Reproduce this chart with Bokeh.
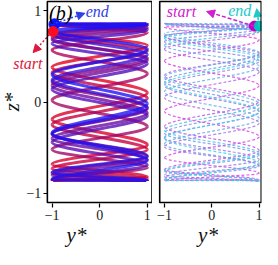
from bokeh.plotting import figure
from bokeh.layouts import row
from bokeh.models import ColumnDataSource, Arrow, NormalHead, Label, FixedTicker, Range1d, BoxAnnotation
from bokeh.embed import file_html
from bokeh.resources import INLINE

# ---- data: wall-to-wall turning points of each trajectory ----
left_y = [-1, 1, -1, 1, -1, 1, -1, 1, -1, 1,
          -1, 1, -1, 1, -1, 1, -1, 1, -1, 1,
          -1, 1, -1, 1, -1, 1, -1, 1, -1, 1,
          -1, 1, -1, 1, -1, 1, -1, 1, -1, 1,
          -1, 1, -1, 1, -1, 1, -1, 1, -1, 1,
          -1, 1, -1, 1, -1, 1, -1, 1, -1, 1,
          -1, 1, -1, 1, -1, 1, -1, 1, -1, 1,
          -1, 1, -1]
left_z = [0.77, 0.62, 0.38, 0.10, -0.19, -0.47, -0.68, -0.82, -0.86,
          -0.84, -0.73, -0.52, -0.25, 0.04, 0.32, 0.56, 0.74, 0.84,
          0.85, 0.76, 0.57, 0.31, 0.02, -0.27, -0.52, -0.72, -0.84,
          -0.86, -0.78, -0.60, -0.35, -0.07, 0.22, 0.48, 0.68, 0.81, 0.86,
          0.84, 0.70, 0.46, 0.18, -0.12, -0.40, -0.63, -0.80, -0.86,
          -0.85, -0.69, -0.44, -0.15, 0.14, 0.42, 0.64, 0.79, 0.85,
          0.86, 0.74, 0.52, 0.24, -0.06, -0.35, -0.59, -0.77, -0.86,
          -0.85, -0.64, -0.34, -0.02, 0.30, 0.58, 0.78, 0.85,
          0.85]

right_y = [0.9,
           -1, 1, -1, 1, -1, 1, -1, 1, -1, 1,
           -1, 1, -1, 1, -1, 1, -1, 1, -1, 1,
           -1, 1, -1, 1, -1, 1, -1, 1, -1, 1,
           -1, 1, -1, 1, -1, 1, -1, 1, -1, 1,
           -1, 1, -1, 1, -1, 1, -1, 1, -1, 1,
           -1, 1, -1, 1, -1, 1, -1, 1, -1, 1,
           -1, 1, -1, 1, -1, 1, -1, 1, -1, 1,
           -1, 1]
right_z = [0.83,
           0.82, 0.68, 0.45, 0.18, -0.10, -0.38, -0.61, -0.78, -0.86,
           -0.85, -0.74, -0.53, -0.27, 0.01, 0.29, 0.53, 0.72, 0.83,
           0.86, 0.77, 0.58, 0.33, 0.05, -0.23, -0.49, -0.69, -0.82,
           -0.87, -0.80, -0.63, -0.39, -0.11, 0.18, 0.45, 0.66, 0.80, 0.86,
           0.84, 0.72, 0.50, 0.23, -0.06, -0.34, -0.58, -0.76, -0.86,
           -0.85, -0.70, -0.46, -0.18, 0.11, 0.39, 0.62, 0.78, 0.85,
           0.86, 0.75, 0.54, 0.27, -0.02, -0.31, -0.56, -0.75, -0.86,
           -0.86, -0.67, -0.40, -0.10, 0.20, 0.48, 0.70, 0.83]

ticks = [-1, 0, 1]
tick_labels = {-1: "\u22121", 0: "0", 1: "1"}

SERIF = "Liberation Serif"


def lerp_color(c0, c1, t):
    return "#%02x%02x%02x" % tuple(int(round(a + (b - a) * t)) for a, b in zip(c0, c1))


def segments(ys, zs, c0, c1):
    n = len(ys) - 1
    d = dict(x0=[], y0=[], x1=[], y1=[], cx0=[], cy0=[], cx1=[], cy1=[], color=[])
    for i in range(n):
        a, b = zs[i], zs[i + 1]
        d["x0"].append(ys[i]); d["y0"].append(a)
        d["x1"].append(ys[i + 1]); d["y1"].append(b)
        d["cx0"].append(ys[i]); d["cy0"].append(a + (b - a) / 3)
        d["cx1"].append(ys[i + 1]); d["cy1"].append(b - (b - a) / 3)
        d["color"].append(lerp_color(c0, c1, i / (n - 1)))
    return ColumnDataSource(d)


def style_axis(ax, label):
    ax.ticker = FixedTicker(ticks=ticks)
    ax.major_label_overrides = tick_labels
    ax.minor_tick_line_color = None
    ax.major_tick_in = 0
    ax.major_tick_out = 4
    ax.major_tick_line_width = 1.2
    ax.major_tick_line_color = "black"
    ax.axis_line_color = None
    ax.major_label_text_font = SERIF
    ax.major_label_text_font_size = "14px"
    ax.major_label_text_color = "#222222"
    ax.major_label_standoff = 2
    ax.axis_label = label
    ax.axis_label_text_font = SERIF
    ax.axis_label_text_font_style = "italic"
    ax.axis_label_text_font_size = "21px"
    ax.axis_label_text_color = "#111111"
    ax.axis_label_standoff = 0


def style(p, right_edge):
    p.outline_line_color = None
    p.grid.visible = False
    p.background_fill_color = "white"
    p.border_fill_color = "white"
    for ax in p.xaxis:
        style_axis(ax, "y*")
    p.add_layout(BoxAnnotation(left=-1.1, right=right_edge, bottom=-1.1, top=1.1,
                               fill_alpha=0, line_color="black", line_alpha=1.0,
                               line_width=1.6, level="overlay"))


H = 249
BOTTOM = 45

# ---- left panel ----
pl = figure(width=152, height=H, output_backend="svg", toolbar_location=None,
            x_range=Range1d(-2.085, 1.11), y_range=Range1d(-1.11, 1.11),
            min_border_left=0, min_border_right=0, min_border_top=0, min_border_bottom=BOTTOM)
style(pl, 1.1)
for ax in pl.yaxis:
    style_axis(ax, "z*")
    ax.major_label_standoff = 2
    ax.fixed_location = -1.1
src_l = segments(left_y, left_z, (232, 0, 30), (20, 20, 255))
pl.bezier(x0="x0", y0="y0", x1="x1", y1="y1", cx0="cx0", cy0="cy0", cx1="cx1", cy1="cy1",
          source=src_l, line_color="color", line_width=3.0, line_alpha=0.8)
pl.scatter([left_y[-1] + 0.05], [left_z[-1]], size=11, color="#0a14ff")
pl.scatter([left_y[0] + 0.02], [left_z[0]], size=10, color="#ff0a1e")

red = "#e0183c"
blue = "#3040e8"
pl.add_layout(Arrow(end=NormalHead(size=8, fill_color=red, line_color=red),
                    x_start=left_y[0], y_start=left_z[0], x_end=-1.40, y_end=0.54,
                    line_color=red, line_width=1.5, line_dash="2 2"))
pl.add_layout(Arrow(end=NormalHead(size=8, fill_color=blue, line_color=blue),
                    x_start=left_y[-1], y_start=left_z[-1], x_end=-0.31, y_end=0.97,
                    line_color=blue, line_width=1.5, line_dash="2 2"))
pl.add_layout(Label(x=-1.51, y=0.42, text="start", text_font=SERIF, text_font_style="italic",
                    text_font_size="16px", text_color=red, text_align="center", text_baseline="middle"))
pl.add_layout(Label(x=-0.05, y=0.99, text="end", text_font=SERIF, text_font_style="italic",
                    text_font_size="16px", text_color=blue, text_align="center", text_baseline="middle"))
pl.add_layout(Label(x=-0.82, y=0.97, text="(b)", text_font=SERIF, text_font_style="italic",
                    text_font_size="20px", text_color="black", text_align="center", text_baseline="middle"))

# ---- right panel ----
pr = figure(width=110, height=H, output_backend="svg", toolbar_location=None,
            x_range=Range1d(-1.21, 1.05), y_range=Range1d(-1.11, 1.11),
            min_border_left=2, min_border_right=1, min_border_top=0, min_border_bottom=BOTTOM)
style(pr, 1.045)
pr.yaxis.visible = False
src_r = segments(right_y, right_z, (230, 40, 230), (40, 220, 230))
pr.bezier(x0="x0", y0="y0", x1="x1", y1="y1", cx0="cx0", cy0="cy0", cx1="cx1", cy1="cy1",
          source=src_r, line_color="color", line_width=1.2, line_alpha=0.8, line_dash="3 2")
mag = "#d020d0"
cya = "#20c8c8"
pr.scatter([right_y[0]], [right_z[0]], size=10, color="#c000c0")
pr.scatter([right_y[-1]], [right_z[-1]], size=10, color="#00c0c0")
pr.add_layout(Arrow(end=NormalHead(size=8, fill_color=mag, line_color=mag),
                    x_start=right_y[0], y_start=right_z[0], x_end=-0.11, y_end=0.99,
                    line_color=mag, line_width=1.5, line_dash="4 2"))
pr.add_layout(Arrow(end=NormalHead(size=8, fill_color=cya, line_color=cya),
                    x_start=right_y[-1], y_start=right_z[-1], x_end=0.95, y_end=1.02,
                    line_color=cya, line_width=1.5, line_dash="4 2"))
pr.add_layout(Label(x=-0.64, y=0.99, text="start", text_font=SERIF, text_font_style="italic",
                    text_font_size="16px", text_color=mag, text_align="center", text_baseline="middle"))
pr.add_layout(Label(x=0.59, y=1.0, text="end", text_font=SERIF, text_font_style="italic",
                    text_font_size="16px", text_color=cya, text_align="center", text_baseline="middle"))

layout = row(pl, pr)
open("out.html", "w").write(file_html(layout, INLINE))
